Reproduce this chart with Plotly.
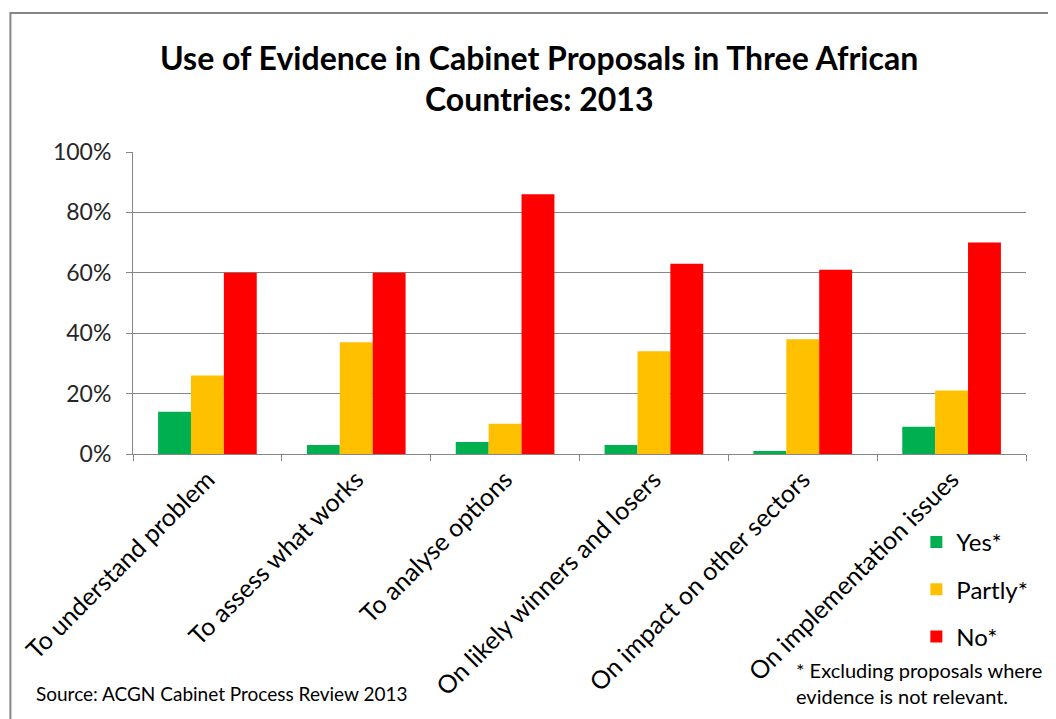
import plotly.graph_objects as go

categories = ["To understand problem", "To assess what works", "To analyse options",
              "On likely winners and losers", "On impact on other sectors",
              "On implementation issues"]
yes_vals = [14, 3, 4, 3, 1, 9]
partly_vals = [26, 37, 10, 34, 38, 21]
no_vals = [60, 60, 86, 63, 61, 70]
y_ticks = [0, 20, 40, 60, 80, 100]
y_ticklabels = ["0%", "20%", "40%", "60%", "80%", "100%"]

FONT = "Lato"
OFF = 8  # page body margin
W, H = 1048, 711
ML, MR, MT, MB = 122, 30, 144, 265

fig = go.Figure()
for name, vals, col in [("Yes*", yes_vals, "#00B050"),
                        ("Partly*", partly_vals, "#FFC000"),
                        ("No*", no_vals, "#FF0000")]:
    fig.add_trace(go.Bar(x=categories, y=vals, name=name, marker_color=col,
                         marker_line_width=0, legendgroup=name))

def px_x(px):  # screen px -> paper
    return (px - OFF - ML) / (W - ML - MR)

def px_y(py):
    return (H - MB - (py - OFF)) / (H - MT - MB)

fig.update_layout(
    width=W, height=H,
    margin=dict(l=ML, r=MR, t=MT, b=MB),
    paper_bgcolor="white", plot_bgcolor="white",
    barmode="group", bargap=0.337, bargroupgap=0,
    font=dict(family=FONT, color="#000000"),
    showlegend=True,
    legend=dict(x=px_x(916), y=px_y(520), xanchor="left", yanchor="top",
                font=dict(size=24, family=FONT, color="#000000"),
                tracegroupgap=13, bgcolor="rgba(0,0,0,0)",
                itemwidth=30),
    xaxis=dict(type="category", tickangle=-45, tickson="boundaries",
               ticks="outside", ticklen=6, tickcolor="#868686",
               showline=True, linecolor="#868686", linewidth=1,
               showgrid=False, tickfont=dict(size=25, family=FONT, color="#000000")),
    yaxis=dict(range=[0, 100], tickvals=y_ticks, ticktext=y_ticklabels,
               ticks="outside", ticklen=6, tickcolor="#868686",
               showline=True, linecolor="#868686", linewidth=1,
               showgrid=True, gridcolor="#868686", gridwidth=1,
               zeroline=False, ticklabelstandoff=10,
               tickfont=dict(size=23, family=FONT, color="#262626")),
)

# title lines
fig.add_annotation(text="<b>Use of Evidence in Cabinet Proposals in Three African</b>",
                   x=px_x(537), y=px_y(57), xref="paper", yref="paper",
                   xanchor="center", yanchor="middle",
                   showarrow=False, font=dict(size=32, family=FONT, color="#000000"))
fig.add_annotation(text="<b>Countries: 2013</b>",
                   x=px_x(537), y=px_y(98), xref="paper", yref="paper",
                   xanchor="center", yanchor="middle",
                   showarrow=False, font=dict(size=32, family=FONT, color="#000000"))
# footnote
fig.add_annotation(text="* Excluding proposals where<br>evidence is not relevant.",
                   x=px_x(793), y=px_y(656), xref="paper", yref="paper",
                   xanchor="left", yanchor="top", align="left", showarrow=False,
                   font=dict(size=20, family=FONT, color="#000000"))
# source
fig.add_annotation(text="Source: ACGN Cabinet Process Review 2013",
                   x=px_x(31), y=px_y(693), xref="paper", yref="paper",
                   xanchor="left", yanchor="middle", showarrow=False,
                   font=dict(size=19, family=FONT, color="#000000"))
# chart border
fig.add_shape(type="rect", xref="paper", yref="paper",
              x0=px_x(7), x1=px_x(1070), y0=px_y(13), y1=px_y(740),
              line=dict(color="#868686", width=2), fillcolor="rgba(0,0,0,0)",
              layer="below")

fig.write_html("out.html")
